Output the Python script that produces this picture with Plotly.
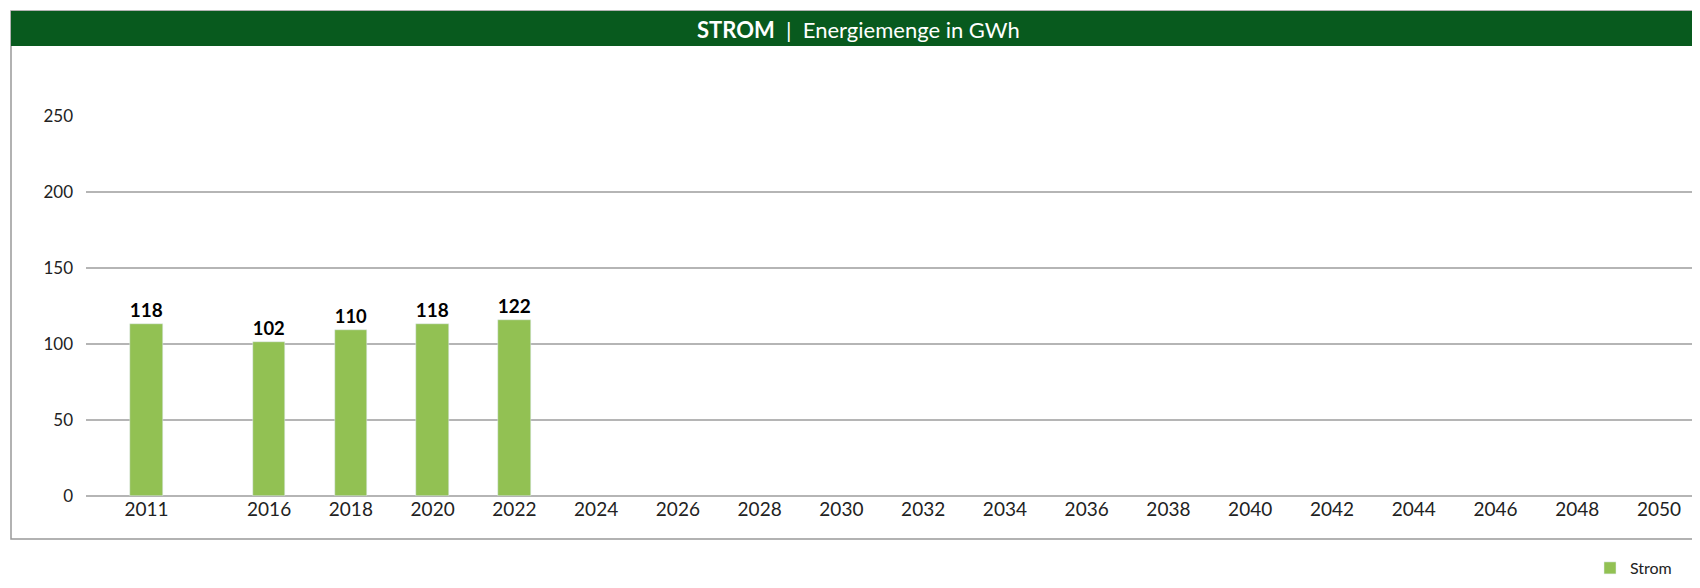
import plotly.graph_objects as go

years = ["2011","2016","2018","2020","2022","2024","2026","2028","2030","2032","2034","2036","2038","2040","2042","2044","2046","2048","2050"]
values = [113, 101, 109, 113, 116] + [None]*14
labels = ["118","102","110","118","122"] + [""]*14
pos = [0] + [1.5 + i for i in range(len(years)-1)]

W, H = 1700, 588
L, R, T, B = 78, 9, 108, 100
pw, ph = W-L-R, H-T-B
def px(x): return (x-L)/pw
def py(y): return (H-B-y)/ph

fig = go.Figure(go.Bar(x=pos, y=values, text=labels, textposition="outside",
    textfont=dict(family="Lato", size=21, color="black", weight="bold"),
    marker_color="#92c153", width=0.4, name="Strom", showlegend=True, cliponaxis=False))
fig.update_layout(
    width=W, height=H, margin=dict(l=L, r=R, t=T, b=B),
    paper_bgcolor="white", plot_bgcolor="white",
    font=dict(family="Lato", size=18, color="#222"),
    xaxis=dict(range=[-0.74, 18.99], tickvals=pos, ticktext=years, showgrid=False,
               zeroline=False, ticks="", tickfont=dict(size=19)),
    yaxis=dict(range=[0, 250], tickvals=[0,50,100,150,200,250], gridcolor="#b5b5b5", gridwidth=1.5,
               zeroline=True, zerolinecolor="#b5b5b5", zerolinewidth=1.5,
               ticks="", ticklabelstandoff=12, tickfont=dict(size=17)),
    legend=dict(x=px(1582), y=py(560), xanchor="left", yanchor="middle", font=dict(size=16)),
    bargap=0,
    shapes=[
        dict(type="rect", xref="paper", yref="paper", x0=px(3), x1=px(1695), y0=py(531), y1=py(3),
             line=dict(color="#999", width=1.5), layer="below"),
        dict(type="rect", xref="paper", yref="paper", x0=px(3), x1=px(1695), y0=py(38), y1=py(3),
             fillcolor="#085a1e", line=dict(width=0)),
    ],
    annotations=[dict(xref="paper", yref="paper", x=px(850), y=py(21), xanchor="center", yanchor="middle",
        showarrow=False, text="<b>STROM</b>  |  Energiemenge in GWh",
        font=dict(family="Lato", size=22, color="white"))],
)
fig.write_html("out.html")
